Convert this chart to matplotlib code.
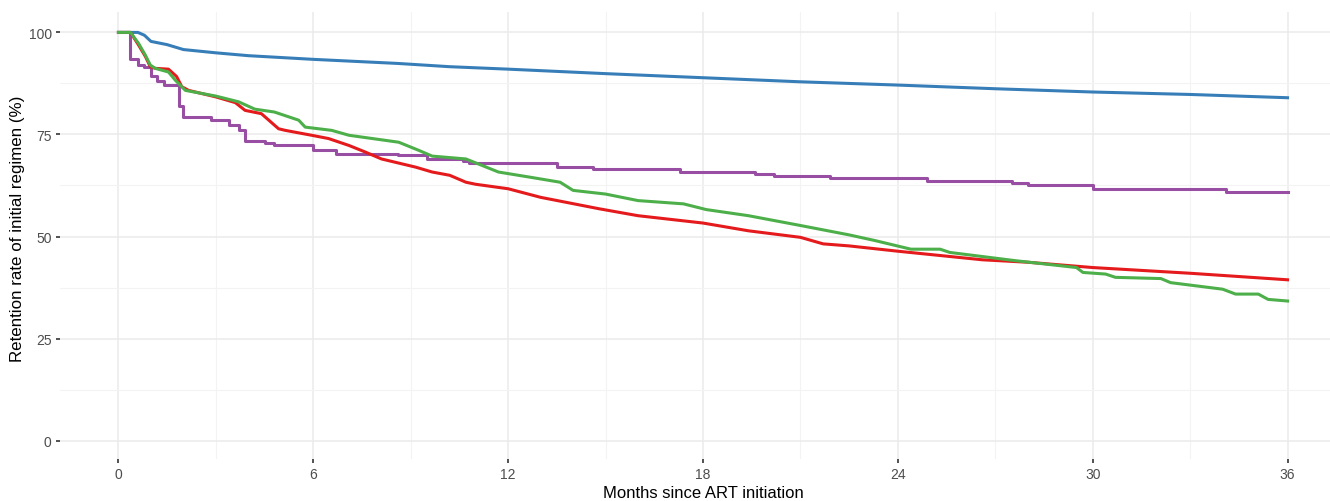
import matplotlib
matplotlib.use("Agg")
import matplotlib.pyplot as plt
from matplotlib.ticker import MultipleLocator

# ---- data ----
blue_t = [0, 0.6, 0.8, 1.0, 1.5, 2.0, 3.0, 4.0, 6.0, 8.6, 10.2, 12, 15, 18, 21, 24, 27, 30, 33, 36]
blue_v = [100, 100, 99.3, 97.8, 97.0, 95.8, 95.0, 94.3, 93.4, 92.4, 91.6, 91.0, 89.9, 88.9, 87.9, 87.1, 86.2, 85.4, 84.8, 84.0]

red_t = [0, 0.37, 0.62, 0.83, 0.98, 1.13, 1.54, 1.79, 1.95, 2.16, 3.0, 3.6, 3.9, 4.4, 4.93, 5.14, 5.95, 6.47,
         7.1, 7.6, 8.1, 9.15, 9.66, 10.2, 10.7, 11.0, 12.0, 13.0, 14.8, 16.0, 18.0, 19.4, 21.0, 21.7, 22.5,
         24.0, 26.6, 28.0, 30.0, 33.0, 36.0]
red_v = [100, 100, 96.9, 94.1, 91.6, 91.2, 91.0, 89.2, 86.7, 85.8, 84.2, 82.8, 80.9, 80.1, 76.4, 76.0, 74.8, 74.0,
         72.3, 70.7, 69.0, 67.0, 65.8, 65.0, 63.3, 62.8, 61.7, 59.6, 56.8, 55.1, 53.3, 51.4, 49.8, 48.2, 47.7,
         46.4, 44.3, 43.7, 42.4, 41.0, 39.4]

green_t = [0, 0.37, 0.62, 0.83, 0.98, 1.13, 1.54, 1.75, 2.06, 3.0, 3.7, 4.2, 4.8, 5.55, 5.75, 6.57, 7.1, 8.63,
           9.25, 9.66, 10.7, 11.7, 12.7, 13.6, 14.0, 15.0, 16.0, 17.4, 18.1, 19.4, 21.0, 22.5, 23.3, 24.4, 25.3,
           25.6, 27.6, 29.5, 29.7, 30.4, 30.7, 32.1, 32.4, 34.0, 34.4, 35.1, 35.4, 36.0]
green_v = [100, 100, 97.3, 94.4, 92.0, 91.2, 90.3, 88.3, 85.8, 84.4, 83.0, 81.2, 80.5, 78.5, 76.8, 76.0, 74.8, 73.1,
           71.1, 69.7, 69.0, 65.8, 64.5, 63.3, 61.3, 60.4, 58.8, 58.0, 56.6, 55.1, 52.7, 50.4, 49.0, 46.9, 46.9,
           46.1, 44.1, 42.4, 41.2, 40.8, 40.0, 39.7, 38.7, 37.1, 35.9, 35.9, 34.6, 34.2]

purple_t = [0, 0.35, 0.6, 0.8, 1.0, 1.2, 1.4, 1.85, 2.0, 2.85, 3.4, 3.7, 3.9, 4.5, 4.8, 6.0, 6.7, 8.6, 9.5,
            10.6, 10.8, 13.5, 14.6, 17.3, 19.6, 20.2, 21.9, 24.9, 27.5, 28.0, 30.0, 34.1, 36.0]
purple_v = [100, 93.6, 92.0, 91.6, 89.4, 88.0, 87.0, 82.0, 79.3, 78.5, 77.2, 76.0, 73.5, 73.0, 72.3, 71.3, 70.3,
            69.9, 69.0, 68.6, 68.1, 67.0, 66.6, 65.9, 65.4, 64.9, 64.3, 63.6, 63.1, 62.7, 61.7, 61.0, 61.0]

x_ticks = [0, 6, 12, 18, 24, 30, 36]
y_ticks = [0, 25, 50, 75, 100]
x_label = "Months since ART initiation"
y_label = "Retention rate of initial regimen (%)"

plt.rcParams['font.family'] = ['Liberation Sans', 'DejaVu Sans']

W, H = 1330, 502
PL, PR, PT, PB = 60, 1346, 13, 460   # panel edges in pixels (right part cropped)
fig = plt.figure(figsize=(W / 100, H / 100), dpi=100)
ax = fig.add_axes([PL / W, (H - PB) / H, (PR - PL) / W, (PB - PT) / H])

ax.set_xlim(-1.8, 37.8)
ax.set_ylim(-4.5, 105)

lw = 2.2
ax.plot(blue_t, blue_v, color="#377EB8", lw=lw)
ax.plot(purple_t, purple_v, color="#984EA3", lw=lw, drawstyle="steps-post")
ax.plot(red_t, red_v, color="#E41A1C", lw=lw)
ax.plot(green_t, green_v, color="#4DAF4A", lw=lw)

ax.set_xticks(x_ticks)
ax.set_yticks(y_ticks)
ax.xaxis.set_minor_locator(MultipleLocator(3))
ax.yaxis.set_minor_locator(MultipleLocator(12.5))
ax.grid(True, which="major", color="#EBEBEB", lw=1.1)
ax.grid(True, which="minor", color="#F3F3F3", lw=0.8)
ax.set_axisbelow(True)
for s in ax.spines.values():
    s.set_visible(False)

ax.tick_params(axis="both", which="major", length=3, width=1.2, color="#333333",
               labelsize=10, labelcolor="#4D4D4D", pad=3)
ax.tick_params(axis="both", which="minor", length=0)

ax.set_xlabel(x_label, fontsize=12, color="black")
ax.set_ylabel(y_label, fontsize=12.2, color="black")
ax.yaxis.set_label_coords(-(PL - 25) / (PR - PL), (PB - 229) / (PB - PT))
ax.xaxis.set_label_coords((703 - PL) / (PR - PL), -(486 - PB) / (PB - PT))

fig.savefig("out.png", dpi=100, facecolor="white")
